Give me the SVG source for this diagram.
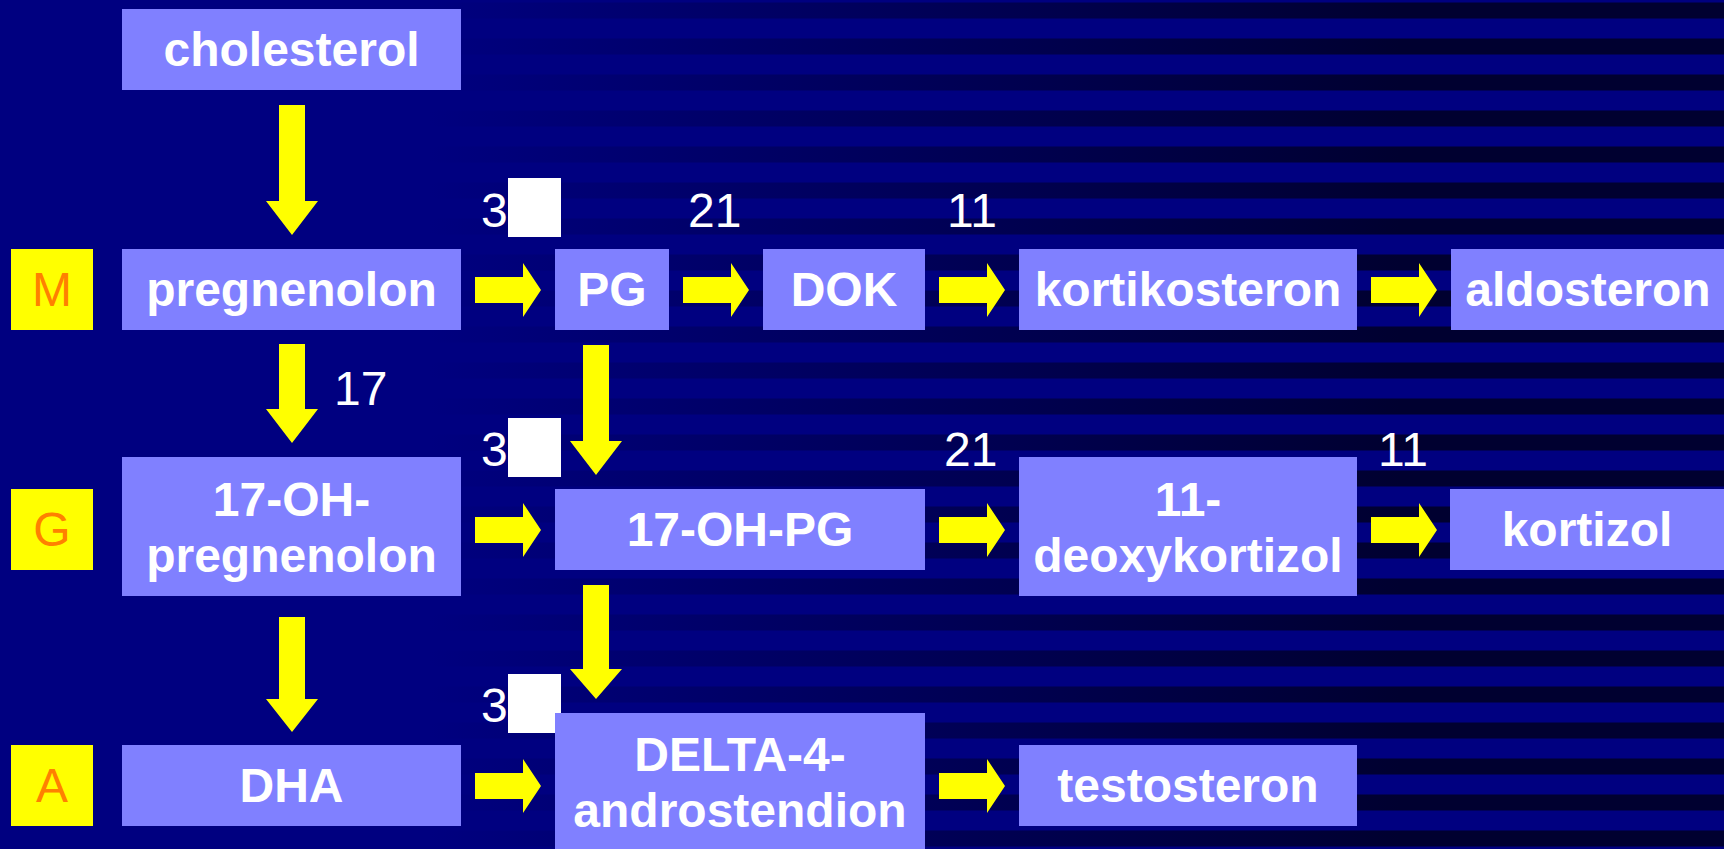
<svg xmlns="http://www.w3.org/2000/svg" width="1724" height="849" viewBox="0 0 1724 849">
  <defs>
    <linearGradient id="stripeGrad" gradientUnits="userSpaceOnUse" x1="430" y1="0" x2="1400" y2="0">
      <stop offset="0" stop-color="#000080"/>
      <stop offset="1" stop-color="#000030"/>
    </linearGradient>
    <path id="arrowR" d="M0,-13 H48 V-27 L66,0 L48,27 V13 H0 Z"/>
    <style>
      .box { fill: #8080FF; }
      .lbl { fill: #FFFF00; }
      .arrow { fill: #FFFF00; }
      .t { font-family: "Liberation Sans", Arial, sans-serif; font-weight: bold; font-size: 48px; fill: #FFFFFF; text-anchor: middle; }
      .lt { font-family: "Liberation Sans", Arial, sans-serif; font-size: 48px; fill: #FF8000; text-anchor: middle; }
      .num { font-family: "Liberation Sans", Arial, sans-serif; font-size: 48px; fill: #FFFFFF; }
      .sq { fill: #FFFFFF; }
    </style>
  </defs>

  <g id="background">
    <rect x="0" y="0" width="1724" height="849" fill="#000080"/>
    <path fill="url(#stripeGrad)" d="M0 2.5h1724v16H0z M0 38.5h1724v16H0z M0 74.5h1724v16H0z M0 110.5h1724v16H0z M0 146.5h1724v16H0z M0 182.5h1724v16H0z M0 218.5h1724v16H0z M0 254.5h1724v16H0z M0 290.5h1724v16H0z M0 326.5h1724v16H0z M0 362.5h1724v16H0z M0 398.5h1724v16H0z M0 434.5h1724v16H0z M0 470.5h1724v16H0z M0 506.5h1724v16H0z M0 542.5h1724v16H0z M0 578.5h1724v16H0z M0 614.5h1724v16H0z M0 650.5h1724v16H0z M0 686.5h1724v16H0z M0 722.5h1724v16H0z M0 758.5h1724v16H0z M0 794.5h1724v16H0z M0 830.5h1724v16H0z"/>
  </g>

  <g id="connectors">
    <!-- down arrows -->
    <path class="arrow" d="M279,105 H305 V201 H318 L292,235 L266,201 H279 Z"/>
    <path class="arrow" d="M279,344 H305 V409 H318 L292,443 L266,409 H279 Z"/>
    <path class="arrow" d="M279,617 H305 V699 H318 L292,732 L266,699 H279 Z"/>
    <path class="arrow" d="M583,345 H609 V441 H622 L596,475 L570,441 H583 Z"/>
    <path class="arrow" d="M583,585 H609 V669 H622 L596,699 L570,669 H583 Z"/>
    <!-- right arrows -->
    <use href="#arrowR" class="arrow" x="475" y="290"/>
    <use href="#arrowR" class="arrow" x="475" y="530"/>
    <use href="#arrowR" class="arrow" x="475" y="786"/>
    <use href="#arrowR" class="arrow" x="683" y="290"/>
    <use href="#arrowR" class="arrow" x="939" y="290"/>
    <use href="#arrowR" class="arrow" x="939" y="530"/>
    <use href="#arrowR" class="arrow" x="939" y="786"/>
    <use href="#arrowR" class="arrow" x="1371" y="290"/>
    <use href="#arrowR" class="arrow" x="1371" y="530"/>
  </g>

  <g id="enzyme-labels">
    <text class="num" x="481" y="227">3</text>
    <rect class="sq" x="508" y="178" width="53" height="59"/>
    <text class="num" x="481" y="466">3</text>
    <rect class="sq" x="508" y="418" width="53" height="59"/>
    <text class="num" x="481" y="722">3</text>
    <rect class="sq" x="508" y="674" width="53" height="59"/>
    <text class="num" x="688" y="227">21</text>
    <text class="num" x="947" y="227">11</text>
    <text class="num" x="334" y="405">17</text>
    <text class="num" x="944" y="466">21</text>
    <text class="num" x="1378" y="466">11</text>
  </g>

  <g id="row-M">
    <rect class="lbl" x="11" y="249" width="82" height="81"/>
    <text class="lt" x="52" y="306">M</text>
  </g>
  <g id="row-G">
    <rect class="lbl" x="11" y="489" width="82" height="81"/>
    <text class="lt" x="52" y="546">G</text>
  </g>
  <g id="row-A">
    <rect class="lbl" x="11" y="745" width="82" height="81"/>
    <text class="lt" x="52" y="802">A</text>
  </g>

  <g id="cholesterol">
    <rect class="box" x="122" y="9" width="339" height="81"/>
    <text class="t" x="291.5" y="66">cholesterol</text>
  </g>
  <g id="pregnenolon">
    <rect class="box" x="122" y="249" width="339" height="81"/>
    <text class="t" x="291.5" y="306">pregnenolon</text>
  </g>
  <g id="oh-pregnenolon">
    <rect class="box" x="122" y="457" width="339" height="139"/>
    <text class="t" x="291.5" y="516">17-OH-</text>
    <text class="t" x="291.5" y="572">pregnenolon</text>
  </g>
  <g id="dha">
    <rect class="box" x="122" y="745" width="339" height="81"/>
    <text class="t" x="291.5" y="802">DHA</text>
  </g>
  <g id="pg">
    <rect class="box" x="555" y="249" width="114" height="81"/>
    <text class="t" x="612" y="306">PG</text>
  </g>
  <g id="oh-pg">
    <rect class="box" x="555" y="489" width="370" height="81"/>
    <text class="t" x="740" y="546">17-OH-PG</text>
  </g>
  <g id="androstendion">
    <rect class="box" x="555" y="713" width="370" height="139"/>
    <text class="t" x="740" y="771">DELTA-4-</text>
    <text class="t" x="740" y="827">androstendion</text>
  </g>
  <g id="dok">
    <rect class="box" x="763" y="249" width="162" height="81"/>
    <text class="t" x="844" y="306">DOK</text>
  </g>
  <g id="kortikosteron">
    <rect class="box" x="1019" y="249" width="338" height="81"/>
    <text class="t" x="1188" y="306">kortikosteron</text>
  </g>
  <g id="deoxykortizol">
    <rect class="box" x="1019" y="457" width="338" height="139"/>
    <text class="t" x="1188" y="516">11-</text>
    <text class="t" x="1188" y="572">deoxykortizol</text>
  </g>
  <g id="testosteron">
    <rect class="box" x="1019" y="745" width="338" height="81"/>
    <text class="t" x="1188" y="802">testosteron</text>
  </g>
  <g id="aldosteron">
    <rect class="box" x="1451" y="249" width="274" height="81"/>
    <text class="t" x="1588" y="306">aldosteron</text>
  </g>
  <g id="kortizol">
    <rect class="box" x="1450" y="489" width="275" height="81"/>
    <text class="t" x="1587" y="546">kortizol</text>
  </g>
</svg>
